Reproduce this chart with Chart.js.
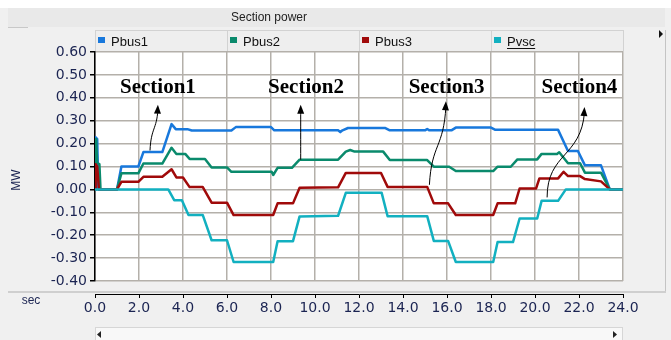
<!DOCTYPE html>
<html>
<head>
<meta charset="utf-8">
<script src="https://cdn.jsdelivr.net/npm/chart.js@4.4.0/dist/chart.umd.min.js"></script>
<style>
  html, body { margin: 0; padding: 0; background: #f0f0f0; }
  canvas { display: block; }
</style>
</head>
<body>
<canvas id="myChart" width="671" height="340"></canvas>
<script>
// time (sec) and values (MW)
const pbus1T = [0, 0.03, 0.1, 0.15, 1.0, 1.2, 1.97, 2.2, 3.06, 3.48, 3.67, 4.2, 4.4, 6.2, 6.4, 8.0, 8.15, 11.05, 11.15, 11.25, 11.5, 13.2, 13.4, 15.0, 15.1, 15.2, 16.2, 16.4, 18.0, 18.2, 21.05, 21.5, 21.95, 22.27, 23.0, 23.4, 24];
const pbus1 = [0, 0.228, 0.22, 0, 0, 0.10, 0.10, 0.163, 0.163, 0.285, 0.263, 0.263, 0.257, 0.257, 0.272, 0.272, 0.258, 0.258, 0.25, 0.258, 0.268, 0.268, 0.258, 0.258, 0.264, 0.258, 0.258, 0.27, 0.27, 0.26, 0.26, 0.168, 0.168, 0.105, 0.105, 0, 0];

const pbus2T = [0, 0.05, 0.1, 0.2, 0.25, 1.0, 1.2, 1.97, 2.2, 3.06, 3.48, 3.7, 4.1, 4.3, 5.0, 5.3, 6.0, 6.2, 8.03, 8.1, 8.3, 8.95, 9.3, 11.05, 11.4, 11.6, 11.8, 13.1, 13.4, 15.1, 15.4, 16.1, 16.4, 18.1, 18.3, 18.9, 19.2, 20.1, 20.3, 21.0, 21.1, 21.5, 22.05, 22.27, 23.0, 23.4, 24];
const pbus2 = [0, 0.22, 0.115, 0.11, 0, 0, 0.07, 0.07, 0.113, 0.113, 0.182, 0.155, 0.155, 0.133, 0.133, 0.096, 0.096, 0.077, 0.077, 0.063, 0.094, 0.094, 0.13, 0.13, 0.165, 0.172, 0.165, 0.165, 0.128, 0.128, 0.099, 0.099, 0.08, 0.08, 0.099, 0.099, 0.131, 0.131, 0.155, 0.155, 0.162, 0.114, 0.114, 0.073, 0.073, 0, 0];

const pbus3T = [0, 0.03, 0.1, 0.18, 1.0, 1.2, 1.97, 2.2, 3.06, 3.48, 3.7, 4.0, 4.3, 4.9, 5.3, 6.0, 6.3, 8.1, 8.3, 9.0, 9.3, 11.05, 11.4, 13.0, 13.3, 15.1, 15.4, 16.05, 16.4, 18.1, 18.3, 19.1, 19.3, 20.05, 20.2, 21.05, 21.3, 21.5, 22.05, 22.27, 23.0, 23.4, 24];
const pbus3 = [0, 0.11, 0.1, 0, 0, 0.033, 0.033, 0.055, 0.055, 0.088, 0.052, 0.052, 0.01, 0.01, -0.058, -0.058, -0.112, -0.112, -0.061, -0.061, 0.007, 0.009, 0.072, 0.072, 0.011, 0.011, -0.061, -0.061, -0.112, -0.112, -0.061, -0.061, 0.004, 0.004, 0.048, 0.048, 0.077, 0.058, 0.058, 0.045, 0.035, 0, 0];

const pvscT = [0, 3.33, 3.6, 3.95, 4.25, 4.9, 5.3, 6.0, 6.3, 8.1, 8.3, 9.0, 9.3, 11.05, 11.4, 13.03, 13.3, 15.1, 15.4, 16.05, 16.4, 18.1, 18.3, 19.0, 19.3, 20.1, 20.3, 21.05, 21.4, 24];
const pvsc = [0, 0, -0.047, -0.047, -0.112, -0.112, -0.222, -0.222, -0.317, -0.317, -0.226, -0.226, -0.118, -0.115, -0.015, -0.015, -0.117, -0.117, -0.225, -0.225, -0.317, -0.317, -0.23, -0.23, -0.127, -0.127, -0.05, -0.05, 0, 0];

const seriesNames = ['Pbus1', 'Pbus2', 'Pbus3', 'Pvsc'];
const seriesColors = ['#1878dc', '#0a8a6c', '#a00a0a', '#12b0c0'];

// section labels and arrows, in data units (sec, MW)
const sectionLabels = ['Section1', 'Section2', 'Section3', 'Section4'];
const sectionLabelX = [2.86, 9.59, 15.98, 22.02];
const sectionLabelY = 0.443;
const sectionArrows = [
  [[2.5, 0.17], [2.55, 0.27], [2.8, 0.26], [2.86, 0.37]],
  [[9.35, 0.13], [9.35, 0.2], [9.35, 0.3], [9.35, 0.37]],
  [[15.2, 0.02], [15.3, 0.2], [15.85, 0.18], [15.95, 0.385]],
  [[20.55, -0.035], [20.55, 0.16], [22.1, 0.14], [22.25, 0.36]]
];

const toPoints = (ts, vs) => ts.map((t, i) => ({ x: t, y: vs[i] }));

const tickColor = '#1b2452';
const gridColor = '#b4b0aa';

const panelPlugin = {
  id: 'panel',
  beforeDraw(chart) {
    const c = chart.ctx;
    const a = chart.chartArea;
    c.save();
    c.fillStyle = '#f0f0f0';
    c.fillRect(0, 0, chart.width, chart.height);
    c.fillStyle = '#ffffff';
    c.fillRect(0, 0, chart.width, 8);
    // header bar
    c.fillStyle = '#e9e9e9';
    c.fillRect(8, 8, 657, 19);
    c.fillStyle = '#c8c8c8';
    c.fillRect(8, 27, 20, 1);
    c.fillStyle = '#222';
    c.font = '12px "Liberation Sans"';
    c.textAlign = 'center';
    c.textBaseline = 'middle';
    c.fillText('Section power', 269, 18);

    // legend tabs
    const tabW = (a.right - a.left) / 4;
    chart.data.datasets.forEach((ds, i) => {
      const x = a.left + i * tabW;
      c.fillStyle = '#eeeeee';
      c.fillRect(x, 30, tabW, 21);
      c.strokeStyle = '#d2d2d2';
      c.lineWidth = 1;
      c.strokeRect(x + 0.5, 30.5, tabW, 21);
      c.fillStyle = ds.borderColor;
      c.fillRect(x + 3, 37, 7, 6);
      c.fillStyle = '#111';
      c.font = '13px "Liberation Sans"';
      c.textAlign = 'left';
      c.textBaseline = 'alphabetic';
      c.fillText(ds.label, x + 16, 46);
      if (i === 3) {
        const w = c.measureText(ds.label).width;
        c.fillRect(x + 16, 48, w, 1);
      }
    });
    // small arrow top right
    c.fillStyle = '#111';
    c.beginPath();
    c.moveTo(659, 30); c.lineTo(663, 34); c.lineTo(659, 38); c.closePath(); c.fill();
    c.fillStyle = '#c4c4c4';
    c.fillRect(665, 30, 1, 262);
    c.fillStyle = '#cfcfcf';
    c.fillRect(8, 291, 658, 2);

    // plot background
    c.fillStyle = '#ffffff';
    c.fillRect(a.left, a.top, a.right - a.left, a.bottom - a.top);

    // scrollbar
    c.fillStyle = '#f8f8f8';
    c.fillRect(a.left, 327, a.right - a.left, 13);
    c.strokeStyle = '#d6d6d6';
    c.strokeRect(a.left + 0.5, 327.5, a.right - a.left - 1, 13);
    c.fillStyle = '#222';
    c.beginPath();
    c.moveTo(101, 331); c.lineTo(97, 334.5); c.lineTo(101, 338); c.closePath(); c.fill();
    c.beginPath();
    c.moveTo(613, 331); c.lineTo(617, 334.5); c.lineTo(613, 338); c.closePath(); c.fill();
    c.restore();
  },
  afterDatasetsDraw(chart) {
    const c = chart.ctx;
    const xs = chart.scales.x;
    const ys = chart.scales.y;
    c.save();
    c.fillStyle = '#000';
    c.strokeStyle = '#000';
    c.font = 'bold 21px "Liberation Serif"';
    c.textAlign = 'center';
    c.textBaseline = 'middle';
    sectionLabels.forEach((s, i) => {
      c.fillText(s, xs.getPixelForValue(sectionLabelX[i]), ys.getPixelForValue(sectionLabelY));
    });
    c.lineWidth = 1;
    sectionArrows.forEach(pts => {
      const p = pts.map(q => [xs.getPixelForValue(q[0]), ys.getPixelForValue(q[1])]);
      c.beginPath();
      c.moveTo(p[0][0], p[0][1]);
      c.bezierCurveTo(p[1][0], p[1][1], p[2][0], p[2][1], p[3][0], p[3][1] + 5);
      c.stroke();
      const ang = Math.atan2(p[3][1] - p[2][1], p[3][0] - p[2][0]);
      c.beginPath();
      c.moveTo(p[3][0], p[3][1]);
      c.lineTo(p[3][0] - 9 * Math.cos(ang) + 3.5 * Math.sin(ang), p[3][1] - 9 * Math.sin(ang) - 3.5 * Math.cos(ang));
      c.lineTo(p[3][0] - 9 * Math.cos(ang) - 3.5 * Math.sin(ang), p[3][1] - 9 * Math.sin(ang) + 3.5 * Math.cos(ang));
      c.closePath();
      c.fill();
    });
    // axis names
    c.fillStyle = tickColor;
    c.font = '12px "Liberation Sans"';
    c.textAlign = 'center';
    c.fillText('sec', 31, 301);
    c.translate(17, 180);
    c.rotate(-Math.PI / 2);
    c.fillText('MW', 0, 0);
    c.restore();
  }
};

const ctx = document.getElementById('myChart');
const myChart = new Chart(ctx, {
  type: 'line',
  data: {
    datasets: [
      { label: seriesNames[0], data: toPoints(pbus1T, pbus1), borderColor: seriesColors[0], backgroundColor: seriesColors[0], order: 3 },
      { label: seriesNames[1], data: toPoints(pbus2T, pbus2), borderColor: seriesColors[1], backgroundColor: seriesColors[1], order: 2 },
      { label: seriesNames[2], data: toPoints(pbus3T, pbus3), borderColor: seriesColors[2], backgroundColor: seriesColors[2], order: 1 },
      { label: seriesNames[3], data: toPoints(pvscT, pvsc), borderColor: seriesColors[3], backgroundColor: seriesColors[3], order: 0 }
    ]
  },
  options: {
    responsive: false,
    animation: false,
    devicePixelRatio: 1,
    elements: {
      point: { radius: 0 },
      line: { borderWidth: 2.5, tension: 0, borderJoinStyle: 'round' }
    },
    layout: { padding: { left: 0, top: 52, right: 48, bottom: 16 } },
    plugins: {
      legend: { display: false },
      title: { display: false },
      tooltip: { enabled: false }
    },
    scales: {
      x: {
        type: 'linear',
        position: 'bottom',
        min: 0,
        max: 24,
        ticks: { display: false, stepSize: 2 },
        grid: { color: gridColor, lineWidth: 1.5, drawTicks: false },
        border: { display: false },
        afterFit: s => { s.height = 13; }
      },
      x2: {
        type: 'linear',
        axis: 'x',
        position: 'bottom',
        min: 0,
        max: 24,
        ticks: {
          stepSize: 2,
          autoSkip: false,
          maxRotation: 0,
          padding: 2,
          color: tickColor,
          font: { family: 'DejaVu Sans', size: 14 },
          callback: v => v.toFixed(1)
        },
        grid: { drawOnChartArea: false, tickLength: 4, tickColor: '#000' },
        border: { display: true, color: '#000', width: 1 },
        afterFit: s => { s.height = 30; }
      },
      y: {
        min: -0.4,
        max: 0.6,
        ticks: {
          stepSize: 0.1,
          padding: 3,
          color: tickColor,
          font: { family: 'DejaVu Sans', size: 14 },
          callback: v => v.toFixed(2)
        },
        grid: { color: gridColor, lineWidth: 1.5, tickLength: 5, tickColor: '#000' },
        border: { display: true, color: '#000', width: 1.5 },
        afterFit: s => { s.width = 95; }
      }
    }
  },
  plugins: [panelPlugin]
});
</script>
</body>
</html>
